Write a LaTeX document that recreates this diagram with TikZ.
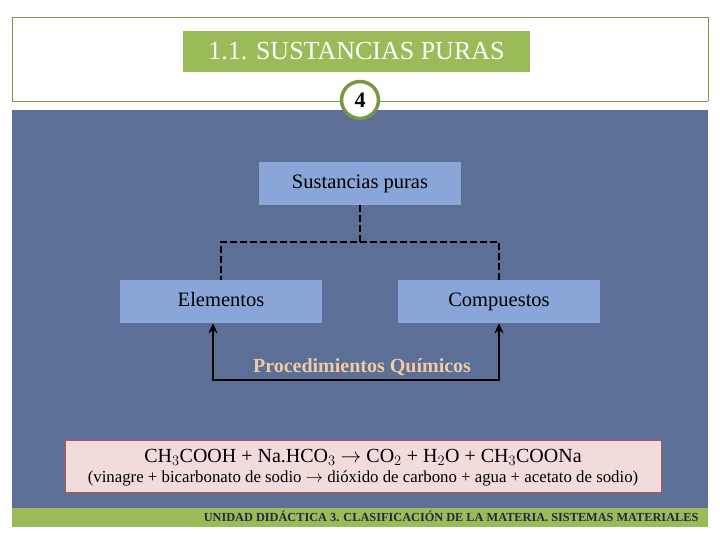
\documentclass[tikz,border=0pt]{standalone}
\usepackage{fontspec}
\setmainfont{Liberation Serif}
\usetikzlibrary{arrows.meta}
\definecolor{olivegreen}{HTML}{9BBB59}
\definecolor{slideblue}{HTML}{5B6F97}
\definecolor{boxblue}{HTML}{8AA6D8}
\definecolor{peach}{HTML}{F2C9A2}
\definecolor{pinkfill}{HTML}{F2DCDB}
\definecolor{redline}{HTML}{C0504D}
\definecolor{darknavy}{HTML}{1F2A44}
\tikzset{
  bluebox/.style={draw=none,fill=boxblue,minimum width=202pt,minimum height=43pt,
    text height=14pt,text depth=4pt,font=\fontsize{20.5}{23}\selectfont},
  dashline/.style={line width=2.5pt,dash pattern=on 7pt off 3pt},
  procline/.style={line width=2.5pt,-{Stealth[length=10pt,width=9pt]}}
}
\begin{document}
\begin{tikzpicture}[x=1pt,y=-1pt]
    \useasboundingbox (0,0) rectangle (720,540);
    % Slide frame and background
    \fill[white] (0,0) rectangle (720,540);
    \draw[olivegreen!80!black,thin] (12,101) -- (12,17) -- (708,17) -- (708,101);
    \fill[slideblue] (12,110) rectangle (708,508);
    \fill[olivegreen] (12,508) rectangle (708,527);
    \draw[olivegreen!80!black] (12,101) -- (708,101);
    % Title
    \node[fill=olivegreen,text=white,minimum width=347pt,minimum height=41pt,
      font=\fontsize{26}{28}\selectfont] (title) at (356.5,51.5) {1.1. SUSTANCIAS PURAS};
    \node[circle,draw=olivegreen!80!black,line width=3.5pt,fill=white,minimum size=37pt,inner sep=0pt,
      font=\bfseries\fontsize{22}{24}\selectfont] (num) at (360,100) {4};
    % Diagram boxes
    \node[bluebox] (pure) at (360,183.5) {Sustancias puras};
    \node[bluebox] (elem) at (221,301.5) {Elementos};
    \node[bluebox] (comp) at (499,301.5) {Compuestos};
    \coordinate (split) at (360,242);
    \draw[dashline] (pure.south) -- (split) -| (elem.north);
    \draw[dashline] (split) -| (comp.north);
    % Chemical procedure
    \coordinate (base) at (360,380);
    \draw[procline] (base) -| ([xshift=-8pt]elem.south);
    \draw[procline] (base) -| (comp.south);
    \node[text=peach,font=\bfseries\fontsize{20}{22}\selectfont] (proc) at (362,367) {Procedimientos Químicos};
    % Reaction
    \node[draw=redline,line width=1pt,fill=pinkfill,minimum width=596pt,minimum height=52pt] (react) at (363,466) {};
    \node[font=\fontsize{20}{22}\selectfont] (eq) at (363,457)
      {CH$_3$COOH + Na.HCO$_3$ $\rightarrow$ CO$_2$ + H$_2$O + CH$_3$COONa};
    \node[font=\fontsize{16.8}{18}\selectfont] (words) at (363,478)
      {(vinagre + bicarbonato de sodio $\rightarrow$ dióxido de carbono + agua + acetato de sodio)};
    % Footer
    \node[anchor=east,text=darknavy,font=\bfseries\fontsize{12.3}{14}\selectfont] (foot) at (702,516.5)
      {UNIDAD DIDÁCTICA 3. CLASIFICACIÓN DE LA MATERIA. SISTEMAS MATERIALES};
\end{tikzpicture}
\end{document}
